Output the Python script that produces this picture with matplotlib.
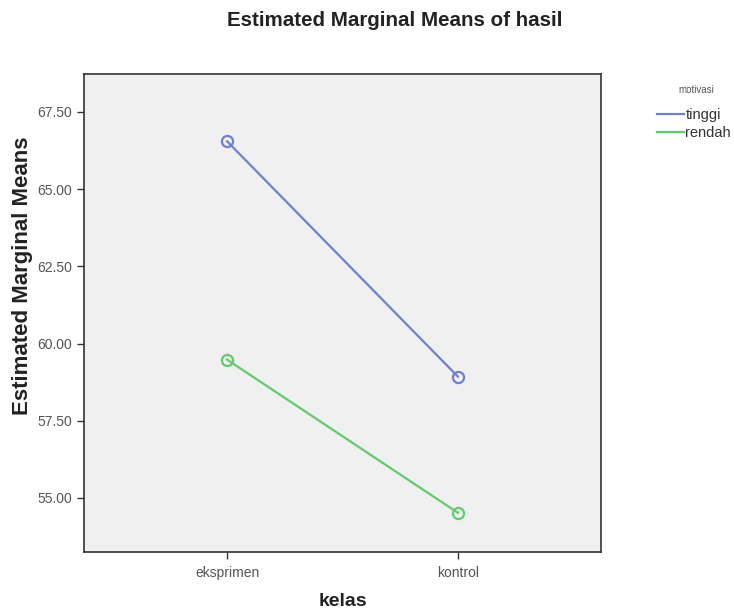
import matplotlib
matplotlib.use("Agg")
import matplotlib.pyplot as plt
from matplotlib.lines import Line2D

categories = ["eksprimen", "kontrol"]
series_names = ["tinggi", "rendah"]
tinggi = [66.55, 58.93]
rendah = [59.48, 54.52]
yticks = [55.00, 57.50, 60.00, 62.50, 65.00, 67.50]

colors = ["#6f80cc", "#5fcc6b"]

plt.rcParams['font.family'] = ['Liberation Sans', 'DejaVu Sans']

fig = plt.figure(figsize=(7.34, 6.16), dpi=100)
ax = fig.add_axes([84/734, 64/616, 517/734, 478/616])
ax.set_facecolor("#f0f0f0")

xs = list(range(len(categories)))
for vals, name, c in zip([tinggi, rendah], series_names, colors):
    ax.plot(xs, vals, color=c, lw=1.6, marker="o", ms=8, mfc="none", mec=c, mew=1.6, label=name)

ax.set_xlim(-0.62, 1.62)
ax.set_ylim(53.25, 68.73)
ax.set_xticks(xs)
ax.set_xticklabels(categories)
ax.set_yticks(yticks)
ax.set_yticklabels([f"{v:.2f}" for v in yticks])
ax.tick_params(axis="both", colors="#333333", labelcolor="#555555", labelsize=10, length=5, width=1)
ax.tick_params(axis="x", pad=5)
for s in ax.spines.values():
    s.set_color("#333333")
    s.set_linewidth(1.2)

ax.set_xlabel("kelas", fontsize=14, fontweight="bold", color="#222222")
ax.xaxis.set_label_coords(0.5, -(593 - 552) / 478)
ax.set_ylabel("Estimated Marginal Means", fontsize=16, fontweight="bold", color="#222222")
ax.yaxis.set_label_coords((33 - 84) / 517, (552 - 276) / 478)
fig.text(395/734, 1 - 20/616, "Estimated Marginal Means of hasil", fontsize=14.8, fontweight="bold",
         color="#222222", ha="center", va="center")

fig.text(696/734, 1 - 90/616, "motivasi", fontsize=7, color="#555555", ha="center", va="center")
handles = [Line2D([0], [0], color=c, lw=1.6) for c in colors]
leg = fig.legend(handles, series_names, loc="upper left", bbox_to_anchor=(657/734, 1 - 108/616),
                 frameon=False, fontsize=10.5, handlelength=1.85,
                 handletextpad=0.1, labelspacing=0.25, borderaxespad=0, borderpad=0)
for t in leg.get_texts():
    t.set_color("#333333")

fig.savefig("out.png", dpi=100)
